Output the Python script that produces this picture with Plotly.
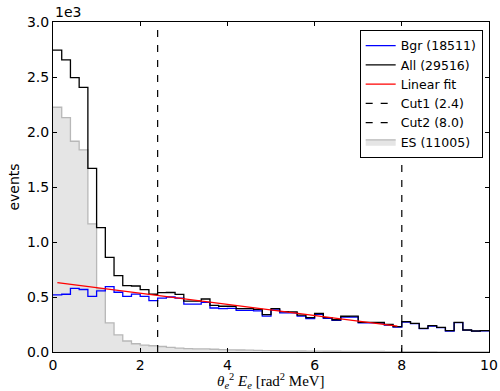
import numpy as np
import plotly.graph_objects as go

# ---- data (events per 0.2 bin) ----
bin_edges = [round(0.2 * i, 1) for i in range(51)]

bgr = [520, 525, 578, 568, 505, 555, 595, 543, 505, 527,
       505, 467, 489, 500, 490, 435, 435, 452, 400, 395,
       397, 378, 378, 373, 327, 382, 356, 355, 327, 304,
       342, 305, 287, 318, 318, 265, 265, 263, 245, 226,
       272, 258, 212, 236, 221, 191, 267, 198, 189, 192]

all_ev = [2745, 2655, 2494, 2406, 1670, 1130, 860, 695, 603, 600,
          567, 525, 540, 541, 524, 463, 462, 482, 424, 416,
          416, 395, 394, 388, 339, 394, 367, 365, 336, 312,
          350, 312, 293, 325, 326, 270, 270, 268, 250, 230,
          276, 261, 215, 239, 224, 194, 270, 200, 191, 194]

es = [2225, 2130, 1916, 1838, 1165, 575, 265, 155, 100, 75,
      62, 57, 50, 42, 35, 30, 28, 28, 25, 22,
      20, 18, 17, 15, 13, 12, 11, 10, 9, 8,
      8, 7, 7, 6, 6, 5, 5, 5, 4, 4,
      4, 3, 3, 3, 2, 2, 2, 2, 1, 1]

fit_intercept = 635.0
fit_slope = -50.5
fit_range = [0.1, 7.9]

cuts = [2.4, 8.0]
legend_names = ["Bgr (18511)", "All (29516)", "Linear fit", "Cut1 (2.4)", "Cut2 (8.0)", "ES (11005)"]

x_ticks = [0, 2, 4, 6, 8, 10]
y_ticks = [0, 500, 1000, 1500, 2000, 2500, 3000]
y_ticktext = ["0.0", "0.5", "1.0", "1.5", "2.0", "2.5", "3.0"]
x_title = "<i>θ</i><sub><i>e</i></sub><sup>2</sup> <i>E</i><sub><i>e</i></sub> [rad<sup>2</sup> MeV]"


def steps(vals):
    return bin_edges, list(vals) + [vals[-1]]


fig = go.Figure()

xs, ys = steps(es)
fig.add_trace(go.Scatter(x=xs, y=ys, mode="lines", line=dict(shape="hv", color="#b8b8b8", width=1.3),
                         fill="tozeroy", fillcolor="#e5e5e5", name=legend_names[5], legendrank=6))
xs, ys = steps(bgr)
fig.add_trace(go.Scatter(x=xs, y=ys, mode="lines", line=dict(shape="hv", color="#0000ff", width=1.3),
                         name=legend_names[0], legendrank=1))
xs, ys = steps(all_ev)
fig.add_trace(go.Scatter(x=xs, y=ys, mode="lines", line=dict(shape="hv", color="#000000", width=1.3),
                         name=legend_names[1], legendrank=2))
fx = np.array(fit_range)
fig.add_trace(go.Scatter(x=fx, y=fit_intercept + fit_slope * fx, mode="lines",
                         line=dict(color="#ff0000", width=1.3), name=legend_names[2], legendrank=3))
for i, c in enumerate(cuts):
    fig.add_trace(go.Scatter(x=[c, c], y=[0, 3000], mode="lines",
                             line=dict(color="#000000", width=1.2, dash="7px,8px"),
                             name=legend_names[3 + i], legendrank=4 + i))

fig.update_layout(
    width=500, height=391,
    margin=dict(l=53, r=11, t=22, b=39, autoexpand=False),
    paper_bgcolor="white", plot_bgcolor="white",
    font=dict(family="DejaVu Sans", size=14, color="black"),
    showlegend=True,
    legend=dict(x=0.9855, y=0.976, xanchor="right", yanchor="top",
                bordercolor="black", borderwidth=1, bgcolor="white", itemwidth=30,
                font=dict(size=12.5), tracegroupgap=0),
    xaxis=dict(range=[0, 10], tickvals=x_ticks, ticktext=[str(v) for v in x_ticks],
               showgrid=False, zeroline=False, showline=True, linecolor="black", linewidth=1,
               mirror="ticks", ticks="inside", ticklen=4, tickcolor="black", automargin=False),
    yaxis=dict(range=[0, 3000], tickvals=y_ticks, ticktext=y_ticktext,
               showgrid=False, zeroline=False, showline=True, linecolor="black", linewidth=1,
               mirror="ticks", ticks="inside", ticklen=4, tickcolor="black", automargin=False,
               title=dict(text="events", font=dict(size=14), standoff=4)),
    annotations=[
        dict(text="1e3", x=0, y=1.0, xref="paper", yref="paper", xanchor="left",
             yanchor="bottom", showarrow=False, font=dict(size=14)),
        dict(text=x_title, x=0.5, y=-0.087, xref="paper", yref="paper", xanchor="center",
             yanchor="middle", showarrow=False, font=dict(family="Liberation Serif", size=15)),
    ],
)

fig.write_html("out.html")
